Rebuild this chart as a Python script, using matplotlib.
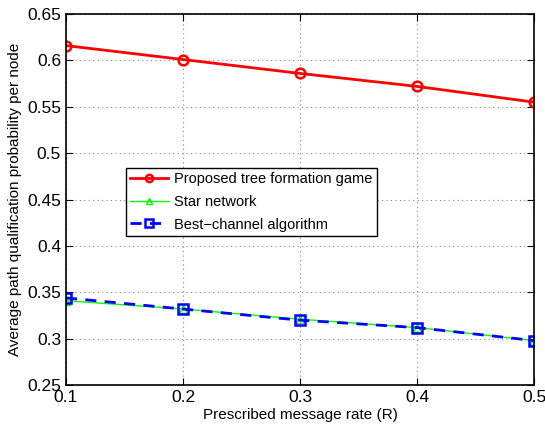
import matplotlib

matplotlib.use("Agg")
import matplotlib.pyplot as plt

plt.rcParams["font.family"] = ["Liberation Sans", "DejaVu Sans"]

rates = [0.1, 0.2, 0.3, 0.4, 0.5]
proposed = [0.616, 0.601, 0.586, 0.572, 0.555]
star = [0.341, 0.332, 0.321, 0.312, 0.298]
best_channel = [0.344, 0.332, 0.320, 0.312, 0.298]

fig = plt.figure(figsize=(5.45, 4.26), dpi=100)
ax = fig.add_axes([0.121, 0.096, 0.859, 0.871])

ax.plot(rates, proposed, color="red", linewidth=2, marker="o", markersize=7,
        markerfacecolor="none", markeredgewidth=1.8, label="Proposed tree formation game")
ax.plot(rates, star, color="#00ff00", linewidth=1, marker="^", markersize=6,
        markerfacecolor="none", label="Star network")
ax.plot(rates, best_channel, color="blue", linewidth=2, linestyle="--", dashes=(4, 3),
        marker="s", markersize=7, markerfacecolor="none", markeredgewidth=1.8,
        label="Best\u2212channel algorithm")

ax.set_xlim(0.1, 0.5)
ax.set_ylim(0.25, 0.65)
ax.set_xticks(rates)
ax.set_xticklabels(["0.1", "0.2", "0.3", "0.4", "0.5"])
ax.set_yticks([0.25, 0.3, 0.35, 0.4, 0.45, 0.5, 0.55, 0.6, 0.65])
ax.set_yticklabels(["0.25", "0.3", "0.35", "0.4", "0.45", "0.5", "0.55", "0.6", "0.65"])
ax.tick_params(direction="in", labelsize=12.5, top=True, right=True, length=5)
ax.grid(True, linestyle=(0, (1, 3)), color="#888888", linewidth=0.8)
for s in ax.spines.values():
    s.set_linewidth(1.2)

ax.set_xlabel("Prescribed message rate (R)", fontsize=11, labelpad=2)
ax.set_ylabel("Average path qualification probability per node", fontsize=11, labelpad=4)

leg = ax.legend(loc="upper left", bbox_to_anchor=(0.128, 0.586), fontsize=10.5,
                fancybox=False, edgecolor="black", framealpha=1, markerscale=0.75,
                handlelength=2.6, handletextpad=0.4, borderpad=0.3, labelspacing=0.6,
                borderaxespad=0)
leg.get_frame().set_linewidth(1.0)

fig.savefig("out.png", dpi=100)
plt.close(fig)
